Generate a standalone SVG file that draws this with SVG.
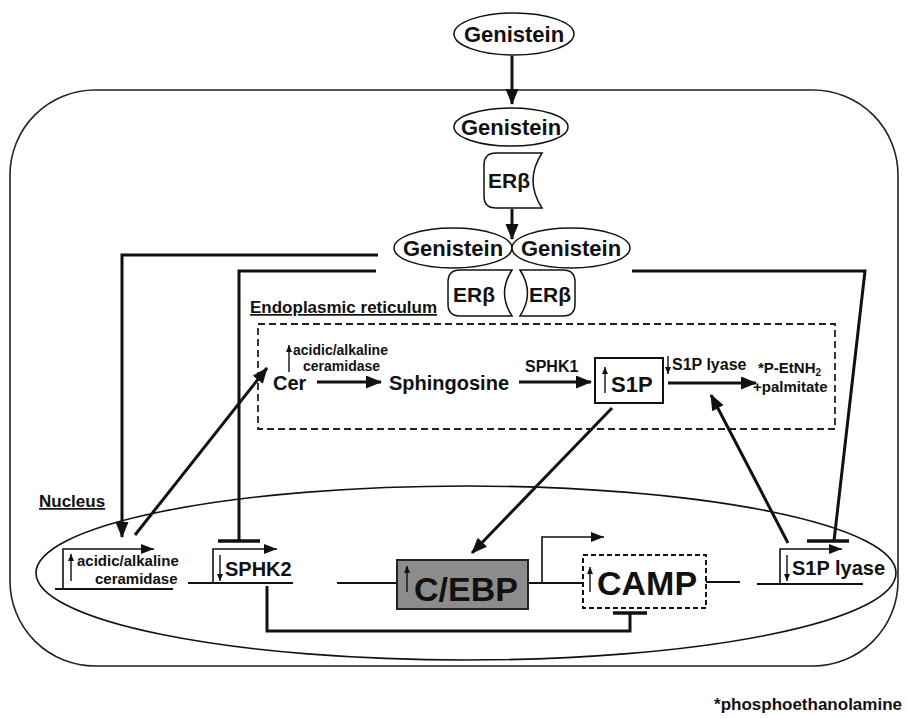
<svg xmlns="http://www.w3.org/2000/svg" width="907" height="718" viewBox="0 0 907 718">
<defs>
<style>
text{font-family:"Liberation Sans",Arial,sans-serif;font-weight:bold;fill:#111}
.shape{fill:#fff;stroke:#111;stroke-width:1.5}
.conn{fill:none;stroke:#111;stroke-width:3}
.bar{stroke:#111;stroke-width:3.5}
.gene{fill:none;stroke:#111;stroke-width:2}
.prom{fill:none;stroke:#111;stroke-width:1.6}
.tiny{fill:none;stroke:#111;stroke-width:1.4}
.mid{text-anchor:middle}
</style>
<marker id="ah" markerUnits="userSpaceOnUse" markerWidth="16" markerHeight="14" refX="15" refY="6.5" orient="auto"><path d="M0,0 L16,6.5 L0,13 z" fill="#111"/></marker>
<marker id="pm" markerUnits="userSpaceOnUse" markerWidth="13" markerHeight="10" refX="13" refY="5" orient="auto"><path d="M0,0 L13,5 L0,10 z" fill="#111"/></marker>
<marker id="sm" markerUnits="userSpaceOnUse" markerWidth="7" markerHeight="6" refX="7" refY="3" orient="auto"><path d="M0,0 L7,3 L0,6 z" fill="#111"/></marker>
</defs>
<rect width="907" height="718" fill="#fff"/>

<g id="cell"><rect x="10" y="90" width="888" height="576" rx="85" ry="85" fill="none" stroke="#222" stroke-width="1.6"/></g>
<g id="nucleus"><ellipse cx="466" cy="573" rx="430" ry="87" fill="none" stroke="#111" stroke-width="1.6"/>
<text x="39" y="507" font-size="17" text-decoration="underline">Nucleus</text></g>
<g id="er"><rect x="258" y="324" width="577" height="105" fill="none" stroke="#222" stroke-width="1.8" stroke-dasharray="7,4"/>
<text x="250" y="313" font-size="17" text-decoration="underline">Endoplasmic reticulum</text></g>

<g id="connectors">
<line class="conn" x1="512" y1="56" x2="512" y2="104" marker-end="url(#ah)"/>
<line class="conn" x1="512" y1="209" x2="512" y2="239" marker-end="url(#ah)"/>
<path class="conn" d="M378,255 H122 V537" marker-end="url(#ah)"/>
<path class="conn" d="M376,271 H239 V541"/>
<line class="bar" x1="218" y1="541" x2="260" y2="541"/>
<path class="conn" d="M632,271 H865 L834,541"/>
<line class="bar" x1="807" y1="541" x2="849" y2="541"/>
<line class="conn" x1="135" y1="535" x2="267" y2="368" marker-end="url(#ah)"/>
<line class="conn" x1="612" y1="408" x2="472" y2="553" marker-end="url(#ah)"/>
<line class="conn" x1="788" y1="543" x2="711" y2="395" marker-end="url(#ah)"/>
<path class="conn" d="M267,586 V631 H630 V614"/>
<line class="bar" x1="613" y1="613" x2="647" y2="613"/>
<line class="conn" x1="317" y1="382" x2="381" y2="382" marker-end="url(#ah)"/>
<line class="conn" x1="519" y1="382" x2="591" y2="382" marker-end="url(#ah)"/>
<line class="conn" x1="668" y1="383" x2="756" y2="383" marker-end="url(#ah)"/>
</g>

<g id="genistein-out"><ellipse class="shape" cx="514" cy="34" rx="60" ry="21"/><text class="mid" x="514" y="42" font-size="22">Genistein</text></g>
<g id="genistein-in"><ellipse class="shape" cx="511" cy="127" rx="57" ry="19"/><text class="mid" x="511" y="135" font-size="22">Genistein</text></g>
<g id="erb-1"><path class="shape" d="M496,153 L542,153 Q524,180.5 542,208 L496,208 Q484,208 484,196 L484,165 Q484,153 496,153 Z"/><text class="mid" x="509" y="188" font-size="21">ERβ</text></g>
<g id="genistein-dimer-left"><ellipse class="shape" cx="453" cy="248" rx="59" ry="20"/><text class="mid" x="453" y="256" font-size="22">Genistein</text></g>
<g id="genistein-dimer-right"><ellipse class="shape" cx="571" cy="248" rx="59" ry="20"/><text class="mid" x="571" y="256" font-size="22">Genistein</text></g>
<g id="erb-left"><path class="shape" d="M460,270 L512,270 Q497,293 512,316 L460,316 Q448,316 448,304 L448,282 Q448,270 460,270 Z"/><text class="mid" x="474" y="302" font-size="21">ERβ</text></g>
<g id="erb-right"><path class="shape" d="M520,270 L563,270 Q575,270 575,282 L575,304 Q575,316 563,316 L520,316 Q535,293 520,270 Z"/><text class="mid" x="550" y="302" font-size="21">ERβ</text></g>

<g id="cer"><text x="273" y="390" font-size="20">Cer</text>
<line class="tiny" x1="289" y1="372" x2="289" y2="345" marker-end="url(#sm)"/>
<text x="293" y="355" font-size="14">acidic/alkaline</text>
<text x="303" y="371" font-size="14">ceramidase</text></g>
<g id="sphingosine"><text x="389" y="390" font-size="20">Sphingosine</text>
<text x="525" y="372" font-size="16">SPHK1</text></g>
<g id="s1p"><rect x="595" y="358" width="68" height="45" fill="#fff" stroke="#111" stroke-width="2"/>
<line class="tiny" x1="605" y1="393" x2="605" y2="367" marker-end="url(#sm)"/>
<text x="611" y="392" font-size="22">S1P</text></g>
<g id="s1p-lyase-er"><line class="tiny" x1="668" y1="356" x2="668" y2="374" marker-end="url(#sm)"/>
<text x="672" y="370" font-size="16">S1P lyase</text></g>
<g id="products"><text x="758" y="373" font-size="15">*P-EtNH<tspan font-size="10" dy="3">2</tspan></text>
<text x="753" y="392" font-size="15">+palmitate</text></g>

<g id="gene-ceramidase"><line class="gene" x1="55" y1="589" x2="173" y2="589"/>
<path class="prom" d="M63,589 V549 H154" marker-end="url(#pm)"/>
<line class="tiny" x1="71" y1="581" x2="71" y2="554" marker-end="url(#sm)"/>
<text x="77" y="566" font-size="15">acidic/alkaline</text>
<text x="95" y="584" font-size="15">ceramidase</text></g>
<g id="gene-sphk2"><line class="gene" x1="188" y1="583" x2="293" y2="583"/>
<path class="prom" d="M213,583 V549 H277" marker-end="url(#pm)"/>
<line class="tiny" x1="220" y1="555" x2="220" y2="581" marker-end="url(#sm)"/>
<text x="225" y="576" font-size="20">SPHK2</text></g>
<g id="gene-cebp"><line class="gene" x1="337" y1="583" x2="397" y2="583"/>
<line class="gene" x1="528" y1="583" x2="583" y2="583"/>
<path class="prom" d="M542,583 V537 H604" marker-end="url(#pm)"/>
<rect x="397" y="560" width="131" height="49" fill="#8c8c8c" stroke="#222" stroke-width="2"/>
<line class="tiny" x1="407" y1="592" x2="407" y2="566" marker-end="url(#sm)"/>
<text x="414" y="601" font-size="34">C/EBP</text></g>
<g id="gene-camp"><rect x="583" y="555" width="123" height="53" fill="#fff" stroke="#111" stroke-width="2" stroke-dasharray="5,3"/>
<line class="tiny" x1="590" y1="592" x2="590" y2="567" marker-end="url(#sm)"/>
<text x="597" y="595" font-size="34">CAMP</text>
<line class="gene" x1="706" y1="582" x2="740" y2="582"/></g>
<g id="gene-s1p-lyase"><line class="gene" x1="757" y1="584" x2="863" y2="584"/>
<path class="prom" d="M780,584 V549 H842" marker-end="url(#pm)"/>
<line class="tiny" x1="787" y1="555" x2="787" y2="581" marker-end="url(#sm)"/>
<text x="792" y="575" font-size="20">S1P lyase</text></g>

<text x="902" y="710" font-size="17" text-anchor="end">*phosphoethanolamine</text>
</svg>
